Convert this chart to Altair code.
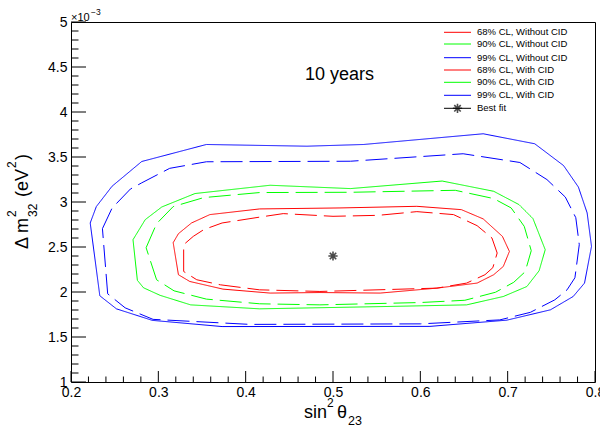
import altair as alt
import pandas as pd

# ---- contour vertices (sin^2 theta23, Delta m^2_32 in 1e-3 eV^2) ----
blue_solid_x = [0.222, 0.229, 0.247, 0.281, 0.355, 0.470, 0.535, 0.672, 0.731, 0.764, 0.781,
                0.791, 0.796, 0.788, 0.775, 0.749, 0.699, 0.611, 0.373, 0.293, 0.252, 0.233]
blue_solid_y = [2.767, 2.949, 3.175, 3.450, 3.639, 3.620, 3.639, 3.758, 3.647, 3.405, 3.166,
                2.879, 2.507, 2.099, 1.950, 1.802, 1.687, 1.618, 1.616, 1.685, 1.813, 1.958]

blue_dash_x = [0.236, 0.247, 0.268, 0.281, 0.313, 0.355, 0.520, 0.649, 0.714, 0.745, 0.766, 0.778,
               0.782, 0.777, 0.768, 0.754, 0.726, 0.691, 0.600, 0.405, 0.294, 0.262, 0.242]
blue_dash_y = [2.704, 2.932, 3.144, 3.213, 3.374, 3.447, 3.453, 3.536, 3.439, 3.249, 3.055, 2.826,
               2.526, 2.158, 2.024, 1.913, 1.774, 1.690, 1.646, 1.640, 1.696, 1.824, 1.980]

green_solid_x = [0.271, 0.285, 0.304, 0.342, 0.428, 0.520, 0.625, 0.684, 0.713, 0.729, 0.743,
                 0.736, 0.722, 0.695, 0.653, 0.562, 0.416, 0.337, 0.302, 0.283, 0.276]
green_solid_y = [2.581, 2.804, 2.945, 3.094, 3.186, 3.149, 3.233, 3.119, 2.971, 2.815, 2.470,
                 2.236, 2.061, 1.950, 1.857, 1.839, 1.813, 1.857, 1.963, 2.047, 2.130]

green_dash_x = [0.286, 0.298, 0.317, 0.352, 0.416, 0.520, 0.640, 0.684, 0.704, 0.719, 0.727,
                0.720, 0.707, 0.686, 0.651, 0.600, 0.485, 0.416, 0.355, 0.318, 0.298]
green_dash_y = [2.492, 2.759, 2.949, 3.049, 3.105, 3.108, 3.130, 3.038, 2.934, 2.729, 2.459,
                2.225, 2.108, 1.997, 1.908, 1.883, 1.857, 1.869, 1.921, 2.013, 2.136]

red_solid_x = [0.317, 0.323, 0.338, 0.359, 0.416, 0.508, 0.596, 0.647, 0.672, 0.694, 0.702,
               0.695, 0.684, 0.665, 0.619, 0.554, 0.485, 0.428, 0.374, 0.336, 0.323]
red_solid_y = [2.548, 2.648, 2.767, 2.860, 2.923, 2.934, 2.952, 2.915, 2.812, 2.618, 2.451,
               2.284, 2.192, 2.099, 2.043, 1.988, 1.994, 1.988, 2.032, 2.117, 2.192]

red_dash_x = [0.329, 0.329, 0.340, 0.352, 0.373, 0.416, 0.443, 0.500, 0.552, 0.596, 0.638,
              0.665, 0.682, 0.688, 0.683, 0.674, 0.653, 0.619, 0.485, 0.416, 0.371, 0.344]
red_dash_y = [2.228, 2.526, 2.618, 2.693, 2.767, 2.832, 2.871, 2.841, 2.852, 2.893, 2.860,
              2.737, 2.600, 2.433, 2.270, 2.192, 2.099, 2.043, 2.006, 2.024, 2.080, 2.136]

best_fit_x = [0.5]
best_fit_y = [2.4]

legend_labels = ["68% CL, Without CID", "90% CL, Without CID", "99% CL, Without CID",
                 "68% CL, With CID", "90% CL, With CID", "99% CL, With CID", "Best fit"]
legend_colors = ["#ff0000", "#00ff00", "#0000ff", "#ff0000", "#00ff00", "#0000ff", "#000000"]

x_major = [0.2, 0.3, 0.4, 0.5, 0.6, 0.7, 0.8]
y_major = [1, 1.5, 2, 2.5, 3, 3.5, 4, 4.5, 5]
x_minor = [round(0.2 + 0.02 * k, 2) for k in range(31) if k % 5 != 0]
y_minor = [round(1 + 0.1 * k, 1) for k in range(41) if k % 5 != 0]

# ---- geometry of the plot frame ----
W, H = 524, 360
FONT = "Liberation Sans"

contours = [
    ("bs", "99", "without", blue_solid_x, blue_solid_y),
    ("bd", "99", "with", blue_dash_x, blue_dash_y),
    ("gs", "90", "without", green_solid_x, green_solid_y),
    ("gd", "90", "with", green_dash_x, green_dash_y),
    ("rs", "68", "without", red_solid_x, red_solid_y),
    ("rd", "68", "with", red_dash_x, red_dash_y),
]
rows = []
for name, level, cid, xs, ys in contours:
    pts = list(zip(xs, ys)) + [(xs[0], ys[0])]
    for i, (a, b) in enumerate(pts):
        rows.append(dict(name=name, level=level, cid=cid, x=a, y=b, i=i))
df = pd.DataFrame(rows)

xscale = alt.Scale(domain=[0.2, 0.8], nice=False, zero=False)
yscale = alt.Scale(domain=[1, 5], nice=False, zero=False)
xaxis = alt.Axis(values=x_major, format="~g", ticks=False, domain=False, grid=False,
                 labelFontSize=14, labelFont=FONT, labelColor="black", labelPadding=3,
                 title=None, labelFlush=False, labelOverlap=False, labelBound=False)
yaxis = alt.Axis(values=y_major, format="~g", ticks=False, domain=False, grid=False,
                 labelFontSize=14, labelFont=FONT, labelColor="black", labelPadding=4,
                 title=None, labelFlush=False, labelOverlap=False, labelBound=False)

lines = alt.Chart(df).mark_line(strokeWidth=1, clip=True).encode(
    x=alt.X("x:Q", scale=xscale, axis=xaxis),
    y=alt.Y("y:Q", scale=yscale, axis=yaxis),
    color=alt.Color("level:N", scale=alt.Scale(domain=["68", "90", "99"],
                                               range=["#ff0000", "#00ff00", "#0000ff"]),
                    legend=None),
    strokeDash=alt.StrokeDash("cid:N", scale=alt.Scale(domain=["without", "with"],
                                                       range=[[1, 0], [22, 7]]),
                              legend=None),
    detail="name:N",
    order="i:Q",
)

star_path = "M-1,0H1M0,-1V1M-0.7,-0.7L0.7,0.7M-0.7,0.7L0.7,-0.7"

best = alt.Chart(pd.DataFrame({"x": best_fit_x, "y": best_fit_y})).mark_point(
    shape=star_path, size=85, filled=False, stroke="black", strokeWidth=1.6
).encode(x=alt.X("x:Q", scale=xscale, axis=xaxis), y=alt.Y("y:Q", scale=yscale, axis=yaxis))


def xticks(vals, length):
    return alt.Chart(pd.DataFrame({"v": vals})).mark_rule(color="black", strokeWidth=1).encode(
        x=alt.X("v:Q", scale=xscale, axis=xaxis), y=alt.value(H), y2=alt.value(H - length))


def yticks(vals, length):
    return alt.Chart(pd.DataFrame({"v": vals})).mark_rule(color="black", strokeWidth=1).encode(
        y=alt.Y("v:Q", scale=yscale, axis=yaxis), x=alt.value(0), x2=alt.value(length))


def label(s, x, y, size, angle=0, align="left", baseline="alphabetic"):
    return alt.Chart(pd.DataFrame({"t": [s]})).mark_text(
        align=align, baseline=baseline, fontSize=size, font=FONT, angle=angle, color="black"
    ).encode(x=alt.value(x), y=alt.value(y), text="t:N")


texts = [
    # x axis title: sin^2 theta_23
    label("sin", 233, 396, 18),
    label("2", 256, 385, 12),
    label("θ", 266, 396, 18),
    label("23", 277, 403, 12.5),
    # y axis title: Delta m^2_32 (eV^2)
    label("Δ m", -43, 227, 18, angle=270),
    label("2", -55, 195, 12, angle=270),
    label("32", -34, 195, 12, angle=270),
    label("(eV", -43, 175, 18, angle=270),
    label("2", -55, 146, 12, angle=270),
    label(")", -43, 138, 18, angle=270),
    # exponent of the y axis
    label("×10", 0, -1, 11),
    label("−3", 20, -7, 8.5),
    # annotation
    label("10 years", 234, 58, 18),
]

# legend entries
leg_y = [10.3, 22, 35.7, 48, 60.3, 73.3, 86.3]
legend_layers = []
for lab, col, yy in zip(legend_labels, legend_colors, leg_y):
    legend_layers.append(
        alt.Chart(pd.DataFrame({"t": [lab]})).mark_rule(color=col, strokeWidth=1).encode(
            x=alt.value(373), x2=alt.value(400), y=alt.value(yy)))
    legend_layers.append(label(lab, 406, yy, 9.5, baseline="middle"))
legend_layers.append(
    alt.Chart(pd.DataFrame({"t": ["Best fit"]})).mark_point(
        shape=star_path, size=85, filled=False, stroke="black", strokeWidth=1.6
    ).encode(x=alt.value(386.5), y=alt.value(leg_y[-1])))

chart = alt.layer(
    lines, best,
    xticks(x_major, 11), xticks(x_minor, 5.5),
    yticks(y_major, 15), yticks(y_minor, 7.5),
    *texts, *legend_layers,
).properties(
    width=W, height=H,
    padding={"left": 71, "top": 22, "right": 5, "bottom": 45},
    autosize=alt.AutoSizeParams(type="none"),
    background="white",
).configure_view(stroke="black", strokeWidth=1)

chart.save("out.html", embed_options={"renderer": "svg", "actions": False})
